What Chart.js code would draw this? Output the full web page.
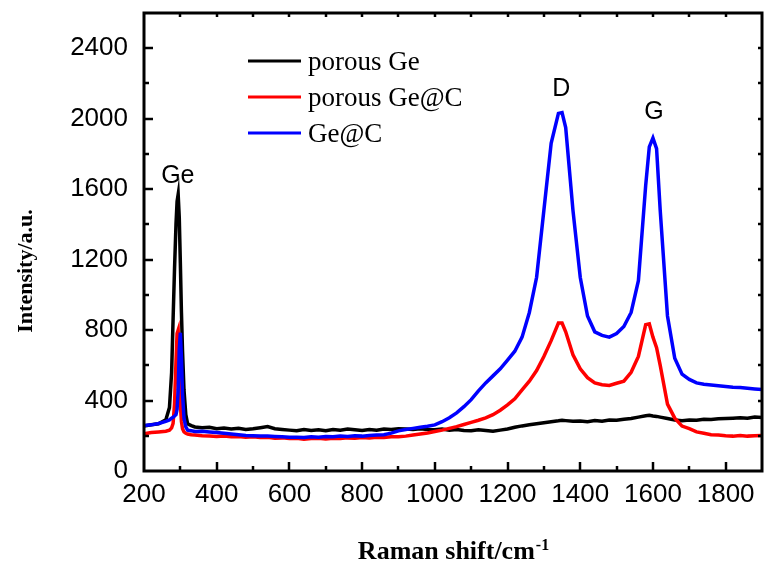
<!DOCTYPE html>
<html>
<head>
<meta charset="utf-8">
<title>Raman spectra</title>
<script src="https://cdn.jsdelivr.net/npm/chart.js@4.4.1/dist/chart.umd.min.js"></script>
<style>
  html, body { margin: 0; padding: 0; background: #fff; }
</style>
</head>
<body>
<canvas id="myChart" width="764" height="565"></canvas>
<script>
// Raman shift (cm-1)
const shift = [
  200,220,240,260,270,276,280,284,288,291,
  294,297,300,303,306,310,315,320,330,340,
  360,380,400,420,440,460,480,500,520,540,
  560,580,600,620,640,660,680,700,720,740,
  760,780,800,820,840,860,880,900,920,940,
  960,980,1000,1020,1040,1060,1080,1100,1120,1140,
  1160,1180,1200,1220,1240,1260,1280,1300,1320,1340,
  1350,1360,1380,1400,1420,1440,1460,1480,1500,1520,
  1540,1560,1580,1590,1600,1610,1620,1640,1660,1680,
  1700,1720,1740,1760,1780,1800,1820,1840,1860,1880,
  1900
]

const porousGe = [
  255,262,268,290,360,560,860,1150,1400,1530,
  1570,1440,1180,900,680,460,320,268,258,250,
  245,248,240,244,238,242,236,240,246,252,
  240,236,232,228,235,230,234,228,236,232,
  238,234,230,236,232,238,236,240,238,236,
  240,236,234,238,232,236,230,228,234,230,
  226,232,238,248,256,262,268,274,280,285,
  288,286,282,284,280,286,282,290,288,294,
  298,306,314,316,312,310,306,298,290,286,
  290,288,294,292,296,298,300,302,300,306,
  304
]

const porousGeC = [
  212,218,222,226,232,245,270,380,620,780,
  800,620,380,280,240,222,214,210,206,204,
  200,198,196,198,194,196,192,194,190,192,
  186,188,184,186,180,184,186,182,186,184,
  188,186,190,188,192,190,194,194,198,204,
  210,216,224,232,242,252,264,276,288,302,
  320,345,375,410,460,510,570,650,740,840,
  840,790,660,580,530,500,490,486,498,510,
  560,650,830,835,760,700,600,380,300,255,
  240,222,214,206,204,200,198,202,198,200,
  202
]

const geC = [
  258,262,270,282,290,300,305,312,320,350,
  460,690,785,640,440,300,250,232,228,224,
  226,222,218,214,210,206,202,200,198,198,
  196,194,192,192,190,194,192,196,194,198,
  196,200,198,202,204,206,215,228,236,242,
  248,254,262,280,302,330,365,405,455,500,
  540,580,630,680,760,900,1100,1480,1860,2030,
  2035,1950,1480,1100,880,790,770,760,780,820,
  900,1080,1620,1840,1890,1830,1480,880,640,550,
  520,500,492,488,484,480,476,474,470,466,
  462
]

const seriesNames = ['porous Ge', 'porous Ge@C', 'Ge@C']
const seriesColors = ['#000000', '#ff0000', '#0000ff']

const xTicks = [200, 400, 600, 800, 1000, 1200, 1400, 1600, 1800]
const yTicks = [0, 400, 800, 1200, 1600, 2000, 2400]

// peak labels
const peakNames = ['Ge', 'D', 'G']
const peakShift = [293, 1348, 1603]
const peakHeight = [1674, 2167, 2037]

function points(ys) {
  return shift.map(function (s, i) { return { x: s, y: ys[i] } })
}

// frame, inward ticks, legend, peak labels and axis titles
const decor = {
  id: 'decor',
  afterDraw(chart) {
    const ctx = chart.ctx
    const a = chart.chartArea
    const x = chart.scales.x
    const y = chart.scales.y
    ctx.save()
    ctx.strokeStyle = '#000'
    ctx.lineCap = 'butt'

    function seg(x1, y1, x2, y2) {
      ctx.beginPath(); ctx.moveTo(x1, y1); ctx.lineTo(x2, y2); ctx.stroke()
    }

    ctx.lineWidth = 2.5
    for (let v = 300; v < 1900; v += 100) {
      const px = Math.round(x.getPixelForValue(v))
      const major = v % 200 === 0
      seg(px, a.bottom, px, a.bottom - (major ? 9 : 5))
      seg(px, a.top, px, a.top + 4)
    }
    for (let v = 200; v < 2600; v += 200) {
      const py = Math.round(y.getPixelForValue(v))
      const major = v % 400 === 0
      seg(a.left, py, a.left + (major ? 9 : 5), py)
      seg(a.right, py, a.right - 4, py)
    }

    ctx.lineWidth = 3
    ctx.strokeRect(a.left, a.top, a.right - a.left, a.bottom - a.top)

    // legend
    const rows = [61, 97, 133]
    ctx.font = '27px "Liberation Serif", "Times New Roman", serif'
    ctx.textAlign = 'left'
    ctx.textBaseline = 'alphabetic'
    ctx.fillStyle = '#000'
    for (let i = 0; i < seriesNames.length; i++) {
      ctx.strokeStyle = seriesColors[i]
      ctx.lineWidth = 3
      seg(248, rows[i], 301, rows[i])
      ctx.fillText(seriesNames[i], 308, rows[i] + 9)
    }

    // peak labels
    ctx.font = '25px "Liberation Sans", Arial, sans-serif'
    ctx.textAlign = 'center'
    ctx.textBaseline = 'middle'
    for (let i = 0; i < peakNames.length; i++) {
      ctx.fillText(peakNames[i], x.getPixelForValue(peakShift[i]), y.getPixelForValue(peakHeight[i]))
    }

    // x title with superscript
    ctx.textBaseline = 'alphabetic'
    ctx.textAlign = 'left'
    const main = 'Raman shift/cm'
    const sup = '-1'
    ctx.font = 'bold 26px "Liberation Serif", "Times New Roman", serif'
    const w1 = ctx.measureText(main).width
    ctx.font = 'bold 16px "Liberation Serif", "Times New Roman", serif'
    const w2 = ctx.measureText(sup).width
    const cx = (a.left + a.right) / 2
    const start = cx - (w1 + w2) / 2
    ctx.font = 'bold 26px "Liberation Serif", "Times New Roman", serif'
    ctx.fillText(main, start, 559)
    ctx.font = 'bold 16px "Liberation Serif", "Times New Roman", serif'
    ctx.fillText(sup, start + w1 + 1, 550)

    // y title
    ctx.save()
    ctx.translate(32, 271)
    ctx.rotate(-Math.PI / 2)
    ctx.textAlign = 'center'
    ctx.font = 'bold 22px "Liberation Serif", "Times New Roman", serif'
    ctx.fillText('Intensity/a.u.', 0, 0)
    ctx.restore()

    ctx.restore()
  }
}

const tickFont = { family: '"Liberation Sans", Arial, sans-serif', size: 26 }

function noPad(s) {
  s.paddingTop = 0; s.paddingBottom = 0; s.paddingLeft = 0; s.paddingRight = 0
}

const ctx = document.getElementById('myChart').getContext('2d')
const chart = new Chart(ctx, {
  type: 'line',
  data: {
    datasets: [
      { label: seriesNames[0], data: points(porousGe), borderColor: seriesColors[0], borderWidth: 3.5, pointRadius: 0, tension: 0, order: 3 },
      { label: seriesNames[1], data: points(porousGeC), borderColor: seriesColors[1], borderWidth: 3.5, pointRadius: 0, tension: 0, order: 2 },
      { label: seriesNames[2], data: points(geC), borderColor: seriesColors[2], borderWidth: 3.5, pointRadius: 0, tension: 0, order: 1 }
    ]
  },
  options: {
    responsive: false,
    animation: false,
    layout: { padding: { top: 13, right: 2, left: 0, bottom: 0 } },
    plugins: { legend: { display: false }, tooltip: { enabled: false } },
    scales: {
      x: {
        type: 'linear', min: 200, max: 1900,
        afterBuildTicks: function (s) { s.ticks = xTicks.map(function (v) { return { value: v } }) },
        afterFit: function (s) { s.height = 94; noPad(s) },
        grid: { display: false, drawTicks: false },
        border: { display: false },
        ticks: { font: tickFont, color: '#000', padding: 8, maxRotation: 0, autoSkip: false, callback: function (v) { return String(v) } }
      },
      y: {
        type: 'linear', min: 0, max: 2600,
        afterBuildTicks: function (s) { s.ticks = yTicks.map(function (v) { return { value: v } }) },
        afterFit: function (s) { s.width = 144; noPad(s) },
        grid: { display: false, drawTicks: false },
        border: { display: false },
        ticks: { font: tickFont, color: '#000', padding: 16, autoSkip: false, callback: function (v) { return String(v) } }
      }
    }
  },
  plugins: [decor]
})
</script>
</body>
</html>
